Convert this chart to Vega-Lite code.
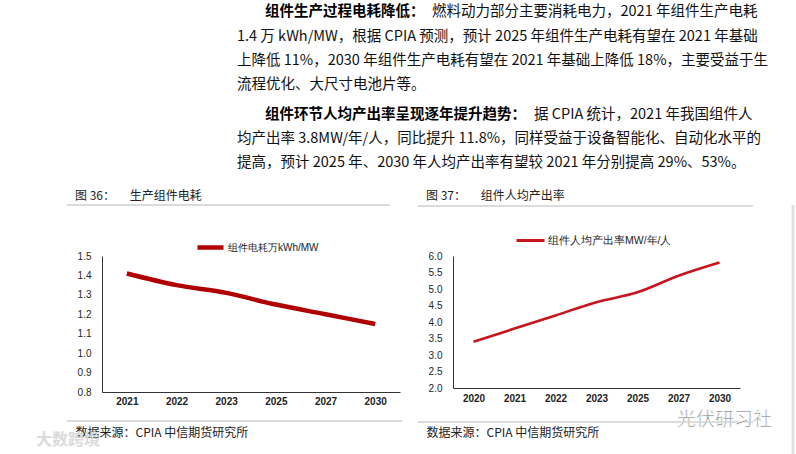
{
  "$schema": "https://vega.github.io/schema/vega-lite/v6.json",
  "background": "white",
  "padding": {"left": 36, "top": 0, "right": 0, "bottom": 0},
  "bounds": "flush",
  "spacing": 0,
  "resolve": {"scale": {"color": "independent"}, "legend": {"color": "independent"}},
  "config": {"view": {"stroke": null}, "font": "Noto Sans CJK SC"},
  "vconcat": [
    {
      "width": 694,
      "height": 256,
      "data": {"values": [
        {"line": 1, "part": "lead", "text": "组件生产过程电耗降低："},
        {"line": 1, "part": "rest", "text": "燃料动力部分主要消耗电力，2021 年组件生产电耗"},
        {"line": 2, "part": "body", "text": "1.4 万 kWh/MW，根据 CPIA 预测，预计 2025 年组件生产电耗有望在 2021 年基础"},
        {"line": 3, "part": "body", "text": "上降低 11%，2030 年组件生产电耗有望在 2021 年基础上降低 18%，主要受益于生"},
        {"line": 4, "part": "body", "text": "流程优化、大尺寸电池片等。"},
        {"line": 5, "part": "lead", "text": "组件环节人均产出率呈现逐年提升趋势："},
        {"line": 5, "part": "rest", "text": "据 CPIA 统计，2021 年我国组件人"},
        {"line": 6, "part": "body", "text": "均产出率 3.8MW/年/人，同比提升 11.8%，同样受益于设备智能化、自动化水平的"},
        {"line": 7, "part": "body", "text": "提高，预计 2025 年、2030 年人均产出率有望较 2021 年分别提高 29%、53%。"}
      ]},
      "encoding": {
        "y": {"field": "line", "type": "quantitative", "scale": {"domain": [0.5, 11], "reverse": true, "nice": false, "zero": false}, "axis": null},
        "text": {"field": "text"}
      },
      "layer": [
        {"transform": [{"filter": "datum.part == 'body' && datum.line <= 4"}],
         "mark": {"type": "text", "align": "left", "baseline": "middle", "fontSize": 14.5, "color": "#111111"},
         "encoding": {"x": {"value": 135}}},
        {"transform": [{"filter": "datum.part == 'body' && datum.line >= 5"}],
         "mark": {"type": "text", "align": "left", "baseline": "middle", "fontSize": 14.5, "color": "#111111", "dy": 5},
         "encoding": {"x": {"value": 135}}},
        {"transform": [{"filter": "datum.part == 'lead' && datum.line == 1"}],
         "mark": {"type": "text", "align": "left", "baseline": "middle", "fontSize": 14.5, "fontWeight": "bold", "color": "#000000"},
         "encoding": {"x": {"value": 163}}},
        {"transform": [{"filter": "datum.part == 'lead' && datum.line == 5"}],
         "mark": {"type": "text", "align": "left", "baseline": "middle", "fontSize": 14.5, "fontWeight": "bold", "color": "#000000", "dy": 5},
         "encoding": {"x": {"value": 163}}},
        {"transform": [{"filter": "datum.part == 'rest' && datum.line == 1"}],
         "mark": {"type": "text", "align": "left", "baseline": "middle", "fontSize": 14.5, "color": "#111111"},
         "encoding": {"x": {"value": 330}}},
        {"transform": [{"filter": "datum.part == 'rest' && datum.line == 5"}],
         "mark": {"type": "text", "align": "left", "baseline": "middle", "fontSize": 14.5, "color": "#111111", "dy": 5},
         "encoding": {"x": {"value": 432}}}
      ]
    },
    {
      "bounds": "flush",
      "spacing": 53,
      "resolve": {"scale": {"color": "independent"}, "legend": {"color": "independent"}},
      "hconcat": [
        {
          "width": 298,
          "height": 136,
          "title": {"text": "图 36：\u2003 生产组件电耗", "anchor": "start", "frame": "group", "dx": -27, "offset": 1, "fontSize": 12, "fontWeight": "normal", "color": "#222222", "font": "Noto Sans CJK SC"},
          "layer": [
            {
              "data": {"values": [
                {"year": "2021", "value": 1.41, "series": "组件电耗万kWh/MW"},
                {"year": "2022", "value": 1.35, "series": "组件电耗万kWh/MW"},
                {"year": "2023", "value": 1.31, "series": "组件电耗万kWh/MW"},
                {"year": "2025", "value": 1.25, "series": "组件电耗万kWh/MW"},
                {"year": "2027", "value": 1.20, "series": "组件电耗万kWh/MW"},
                {"year": "2030", "value": 1.15, "series": "组件电耗万kWh/MW"}
              ]},
              "mark": {"type": "line", "strokeWidth": 4.5, "interpolate": "monotone"},
              "encoding": {
                "x": {"field": "year", "type": "ordinal", "scale": {"type": "point", "padding": 0.5},
                      "axis": {"labelAngle": 0, "ticks": false, "domainColor": "#333333", "domainWidth": 1, "labelPadding": 4, "labelFontSize": 10, "labelFontWeight": "bold", "labelFont": "Liberation Sans", "labelColor": "#222222",
                               "title": "数据来源：CPIA 中信期货研究所", "titleX": -27, "titleY": 40, "titleAlign": "left", "titleAnchor": "start", "titleBaseline": "middle", "titleFontSize": 12, "titleFontWeight": "normal", "titleColor": "#222222", "titleFont": "Noto Sans CJK SC"}},
                "y": {"field": "value", "type": "quantitative", "scale": {"domain": [0.8, 1.5], "nice": false, "zero": false},
                      "axis": {"values": [0.8, 0.9, 1.0, 1.1, 1.2, 1.3, 1.4, 1.5], "format": ".1f", "ticks": false, "grid": false, "domainColor": "#333333", "domainWidth": 1, "labelPadding": 11, "labelFontSize": 10, "labelFont": "Liberation Sans", "labelColor": "#262626", "title": null}},
                "color": {"field": "series", "type": "nominal", "scale": {"range": ["#B00000"]},
                          "legend": {"orient": "none", "legendX": 93, "legendY": -24, "title": null, "symbolType": "stroke", "symbolSize": 676, "symbolStrokeWidth": 4.5, "labelFontSize": 10, "labelFont": "Liberation Sans", "labelColor": "#222222", "labelOffset": 2, "padding": 0}}
              }
            },
            {
              "data": {"values": [{"rule": "header"}]},
              "mark": {"type": "rule", "stroke": "#cfcfcf", "strokeWidth": 1.6, "opacity": 1},
              "encoding": {"x": {"value": -35}, "x2": {"value": 288}, "y": {"value": -51}, "detail": {"field": "rule", "type": "nominal"}}
            },
            {
              "data": {"values": [{"rule": "footer"}]},
              "mark": {"type": "rule", "stroke": "#cfcfcf", "strokeWidth": 1.6, "opacity": 1},
              "encoding": {"x": {"value": -35}, "x2": {"value": 300}, "y": {"value": 165}, "detail": {"field": "rule", "type": "nominal"}}
            },
            {
              "data": {"values": [{"mark": "大数跨境"}]},
              "mark": {"type": "text", "align": "left", "baseline": "middle", "fontSize": 16, "color": "#dadada", "fontWeight": "bold"},
              "encoding": {"x": {"value": -66}, "y": {"value": 184}, "text": {"field": "mark"}}
            }
          ]
        },
        {
          "width": 287,
          "height": 132,
          "title": {"text": "图 37：\u2003 组件人均产出率", "anchor": "start", "frame": "group", "dx": -27, "offset": 1, "fontSize": 12, "fontWeight": "normal", "color": "#222222", "font": "Noto Sans CJK SC"},
          "layer": [
            {
              "data": {"values": [
                {"year": "2020", "value": 3.4, "series": "组件人均产出率MW/年/人"},
                {"year": "2021", "value": 3.8, "series": "组件人均产出率MW/年/人"},
                {"year": "2022", "value": 4.2, "series": "组件人均产出率MW/年/人"},
                {"year": "2023", "value": 4.6, "series": "组件人均产出率MW/年/人"},
                {"year": "2025", "value": 4.9, "series": "组件人均产出率MW/年/人"},
                {"year": "2027", "value": 5.4, "series": "组件人均产出率MW/年/人"},
                {"year": "2030", "value": 5.8, "series": "组件人均产出率MW/年/人"}
              ]},
              "mark": {"type": "line", "strokeWidth": 2.6, "interpolate": "monotone"},
              "encoding": {
                "x": {"field": "year", "type": "ordinal", "scale": {"type": "point", "padding": 0.5},
                      "axis": {"labelAngle": 0, "ticks": false, "domainColor": "#333333", "domainWidth": 1, "labelPadding": 5, "labelFontSize": 10, "labelFontWeight": "bold", "labelFont": "Liberation Sans", "labelColor": "#222222",
                               "title": "数据来源：CPIA 中信期货研究所", "titleX": -27, "titleY": 44, "titleAlign": "left", "titleAnchor": "start", "titleBaseline": "middle", "titleFontSize": 12, "titleFontWeight": "normal", "titleColor": "#222222", "titleFont": "Noto Sans CJK SC"}},
                "y": {"field": "value", "type": "quantitative", "scale": {"domain": [2, 6], "nice": false, "zero": false},
                      "axis": {"values": [2.0, 2.5, 3.0, 3.5, 4.0, 4.5, 5.0, 5.5, 6.0], "format": ".1f", "ticks": false, "grid": false, "domainColor": "#333333", "domainWidth": 1, "labelPadding": 11, "labelFontSize": 10, "labelFont": "Liberation Sans", "labelColor": "#262626", "title": null}},
                "color": {"field": "series", "type": "nominal", "scale": {"range": ["#C8141E"]},
                          "legend": {"orient": "none", "legendX": 62, "legendY": -31, "title": null, "symbolType": "stroke", "symbolSize": 784, "symbolStrokeWidth": 3, "labelFontSize": 10.5, "labelFont": "Liberation Sans", "labelColor": "#222222", "labelOffset": 2, "padding": 0}}
              }
            },
            {
              "data": {"values": [{"rule": "header"}]},
              "mark": {"type": "rule", "stroke": "#cfcfcf", "strokeWidth": 1.6, "opacity": 1},
              "encoding": {"x": {"value": -35}, "x2": {"value": 300}, "y": {"value": -50}, "detail": {"field": "rule", "type": "nominal"}}
            },
            {
              "data": {"values": [{"rule": "footer"}]},
              "mark": {"type": "rule", "stroke": "#cfcfcf", "strokeWidth": 1.6, "opacity": 1},
              "encoding": {"x": {"value": -35}, "x2": {"value": 300}, "y": {"value": 166}, "detail": {"field": "rule", "type": "nominal"}}
            },
            {
              "data": {"values": [{"rule": "border"}]},
              "mark": {"type": "rule", "stroke": "#e0e0e0", "strokeWidth": 3, "opacity": 1},
              "encoding": {"x": {"value": 340}, "y": {"value": -51}, "y2": {"value": 198}, "detail": {"field": "rule", "type": "nominal"}}
            },
            {
              "data": {"values": [{"mark": "光伏研习社"}]},
              "mark": {"type": "text", "align": "left", "baseline": "middle", "fontSize": 19, "color": "#8c8c8c", "stroke": "white", "strokeWidth": 0.6},
              "encoding": {"x": {"value": 224}, "y": {"value": 164}, "text": {"field": "mark"}}
            }
          ]
        }
      ]
    }
  ]
}
